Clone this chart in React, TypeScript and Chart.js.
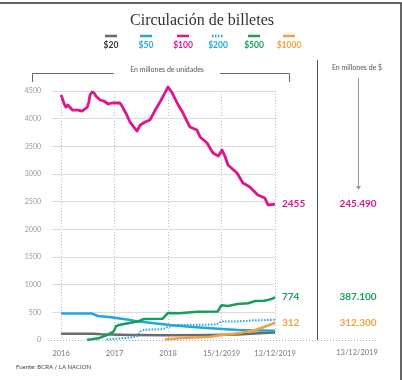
import React, { useEffect, useRef } from "react";
import { Chart, registerables } from "chart.js";

Chart.register(...registerables);

const xLabels = ["2016", "2017", "2018", "15/1/2019", "13/12/2019"];
const seriesNames = ["$20", "$50", "$100", "$200", "$500", "$1000"];
const seriesColors = ["#6b6b6b", "#1fa8d9", "#e0148f", "#1fa8d9", "#14a05c", "#f2a23a"];

// x in "tick index" units: 0 = 2016, 1 = 2017, 2 = 2018, 3 = 15/1/2019, 4 = 13/12/2019
const t100 = [0, 0.06, 0.09, 0.13, 0.21, 0.32, 0.39, 0.49, 0.52, 0.54, 0.58, 0.62, 0.65, 0.73, 0.8, 0.88, 0.95, 1.01, 1.1, 1.14, 1.22, 1.29, 1.36, 1.42, 1.48, 1.57, 1.66, 1.76, 1.85, 1.94, 2.0, 2.08, 2.17, 2.28, 2.41, 2.54, 2.6, 2.73, 2.84, 2.94, 3.01, 3.07, 3.12, 3.29, 3.4, 3.53, 3.68, 3.81, 3.87, 4.0];
const v100 = [4427, 4265, 4210, 4246, 4156, 4156, 4138, 4210, 4300, 4427, 4481, 4463, 4409, 4337, 4319, 4265, 4283, 4283, 4283, 4228, 4084, 3939, 3849, 3777, 3885, 3939, 3975, 4156, 4300, 4463, 4572, 4463, 4283, 4102, 3849, 3795, 3668, 3560, 3379, 3325, 3433, 3307, 3162, 3018, 2837, 2765, 2620, 2566, 2440, 2455];

const t50 = [0, 0.58, 0.69, 0.97, 1.29, 1.38, 1.66, 2.04, 2.41, 2.79, 3.31, 4.0];
const v50 = [480, 478, 434, 407, 361, 343, 313, 271, 241, 211, 181, 168];

const t20 = [0, 0.6, 0.75, 1.3, 2.0, 2.8, 3.3, 3.7, 4.0];
const v20 = [115, 115, 105, 92, 88, 92, 100, 120, 135];

const t500 = [0.48, 0.7, 0.88, 0.98, 1.03, 1.1, 1.3, 1.45, 1.55, 1.9, 2.0, 2.2, 2.55, 2.93, 3.0, 3.12, 3.3, 3.5, 3.63, 3.8, 3.87, 3.96, 4.0];
const v500 = [0, 30, 100, 150, 250, 275, 310, 340, 380, 385, 490, 485, 510, 515, 630, 615, 650, 665, 705, 710, 725, 750, 774];

const t200 = [0.85, 1.0, 1.3, 1.42, 1.48, 1.55, 1.9, 2.0, 2.2, 2.9, 3.0, 3.3, 3.6, 4.0];
const v200 = [10, 20, 45, 70, 150, 185, 195, 240, 270, 280, 335, 335, 355, 365];

const t1000 = [1.94, 2.22, 2.79, 3.01, 3.31, 3.63, 3.81, 4.0];
const v1000 = [10, 30, 60, 90, 120, 180, 240, 312];

const yTickValues = [0, 500, 1000, 1500, 2000, 2500, 3000, 3500, 4000, 4500];
const endLabels = ["2455", "774", "312"];
const endValues = [2455, 774, 312];
const endColors = ["#e0148f", "#14a05c", "#f2a23a"];
const moneyLabels = ["245.490", "387.100", "312.300"];

const pts = (t: number[], v: number[]) => t.map((x, i) => ({ x, y: v[i] }));

const decor = {
  id: "decor",
  beforeDraw(chart: any) {
    const { ctx, width, height } = chart;
    ctx.save();
    ctx.fillStyle = "#fff";
    ctx.fillRect(0, 0, width, height);
    ctx.restore();
  },
  afterDraw(chart: any) {
    const { ctx, scales } = chart;
    const ys = scales.y;
    const area = chart.chartArea;
    ctx.save();
    // frame
    ctx.strokeStyle = "#333";
    ctx.lineWidth = 1.5;
    ctx.beginPath();
    ctx.moveTo(0, 3);
    ctx.lineTo(401, 3);
    ctx.lineTo(401, 380);
    ctx.stroke();

    // title
    ctx.fillStyle = "#333";
    ctx.font = "16px 'Liberation Serif'";
    ctx.textAlign = "center";
    ctx.textBaseline = "alphabetic";
    ctx.fillText("Circulación de billetes", 202, 25);

    // legend
    const lx = [111, 146, 183, 218, 254, 289];
    seriesNames.forEach((n, i) => {
      ctx.strokeStyle = seriesColors[i];
      ctx.lineWidth = 2.5;
      ctx.setLineDash(i === 3 ? [1.5, 1.5] : []);
      ctx.beginPath();
      ctx.moveTo(lx[i] - 6, 36);
      ctx.lineTo(lx[i] + 6, 36);
      ctx.stroke();
      ctx.setLineDash([]);
      ctx.fillStyle = i === 0 ? "#333" : seriesColors[i];
      ctx.font = "bold 8.5px Lato";
      ctx.fillText(n, lx[i], 48);
    });

    // bracket
    ctx.strokeStyle = "#666";
    ctx.lineWidth = 1;
    ctx.beginPath();
    ctx.moveTo(32.5, 82);
    ctx.lineTo(32.5, 73.5);
    ctx.lineTo(114, 73.5);
    ctx.moveTo(220, 73.5);
    ctx.lineTo(289.5, 73.5);
    ctx.lineTo(289.5, 82);
    ctx.stroke();
    ctx.fillStyle = "#555";
    ctx.font = "7px Lato";
    ctx.textBaseline = "middle";
    ctx.fillText("En millones de unidades", 167, 70);
    ctx.fillText("En millones de $", 357, 68);

    // right panel separator
    ctx.strokeStyle = "#555";
    ctx.beginPath();
    ctx.moveTo(317.5, 60);
    ctx.lineTo(317.5, 340);
    ctx.stroke();

    // arrow
    ctx.strokeStyle = "#999";
    ctx.fillStyle = "#999";
    ctx.beginPath();
    ctx.moveTo(358.5, 78);
    ctx.lineTo(358.5, 188);
    ctx.stroke();
    ctx.beginPath();
    ctx.moveTo(356, 186);
    ctx.lineTo(361, 186);
    ctx.lineTo(358.5, 190);
    ctx.closePath();
    ctx.fill();

    // baseline dotted
    ctx.strokeStyle = "#aaa";
    ctx.setLineDash([1, 2]);
    const y0 = Math.round(ys.getPixelForValue(0)) + 0.5;
    ctx.beginPath();
    ctx.moveTo(area.left - 4, y0);
    ctx.lineTo(378, y0);
    ctx.stroke();
    ctx.setLineDash([]);

    // end labels
    ctx.font = "bold 10px Lato";
    endLabels.forEach((l, i) => {
      const y = ys.getPixelForValue(endValues[i]);
      ctx.fillStyle = endColors[i];
      ctx.textAlign = "left";
      ctx.fillText(l, 282, y);
      ctx.textAlign = "center";
      ctx.fillText(moneyLabels[i], 358, y);
    });

    ctx.fillStyle = "#777";
    ctx.font = "7.5px Lato";
    ctx.textAlign = "center";
    ctx.fillText(xLabels[4], 357, 353);

    ctx.fillStyle = "#444";
    ctx.font = "6px Lato";
    ctx.textAlign = "left";
    ctx.fillText("Fuente: BCRA / LA NACION", 16, 367);
    ctx.restore();
  },
};

export default function App() {
  const ref = useRef<HTMLCanvasElement>(null);
  useEffect(() => {
    const mk = (i: number, t: number[], v: number[], w = 2.5) => ({
      label: seriesNames[i],
      data: pts(t, v),
      borderColor: seriesColors[i],
      borderWidth: w,
      borderDash: i === 3 ? [1.5, 1.5] : [],
      pointRadius: 0,
      tension: 0,
      fill: false,
      clip: false as any,
      borderJoinStyle: "round" as const,
    });
    const chart = new Chart(ref.current!, {
      type: "line",
      data: {
        datasets: [
          mk(2, t100, v100, 2.8),
          mk(4, t500, v500),
          mk(5, t1000, v1000),
          mk(3, t200, v200, 2),
          mk(1, t50, v50),
          mk(0, t20, v20),
        ],
      },
      options: {
        animation: false,
        responsive: false,
        devicePixelRatio: 1,
        layout: { padding: { left: 0, right: 127, top: 91, bottom: 15 } },
        plugins: { legend: { display: false }, tooltip: { enabled: false } },
        scales: {
          x: {
            type: "linear",
            min: -0.17,
            max: 4,
            afterBuildTicks: (s: any) => {
              s.ticks = xLabels.map((_, i) => ({ value: i }));
            },
            afterFit: (s: any) => {
              s.height = 25;
            },
            ticks: {
              callback: (v: any) => xLabels[v as number],
              color: "#777",
              font: { family: "Lato", size: 7.5 },
              padding: 9,
              maxRotation: 0,
              autoSkip: false,
            },
            grid: { color: "#bbb", drawTicks: false },
            border: { display: false, dash: [1, 2] },
          },
          y: {
            min: 0,
            max: 4500,
            afterBuildTicks: (s: any) => {
              s.ticks = yTickValues.map((v) => ({ value: v }));
            },
            afterFit: (s: any) => {
              s.width = 52;
            },
            ticks: {
              callback: (v: any) => String(v),
              color: "#999",
              font: { family: "Lato", size: 7 },
              padding: 11,
            },
            grid: {
              color: (c: any) => (c.tick && c.tick.value === 0 ? "rgba(0,0,0,0)" : "#dcdcdc"),
              drawTicks: false,
            },
            border: { display: false },
          },
        },
      },
      plugins: [decor],
    });
    return () => chart.destroy();
  }, []);
  return (
    <div style={{ position: "fixed", left: 0, top: 0, width: 402, height: 380, background: "#fff" }}>
      <canvas ref={ref} width={402} height={380} style={{ width: 402, height: 380 }} />
    </div>
  );
}
